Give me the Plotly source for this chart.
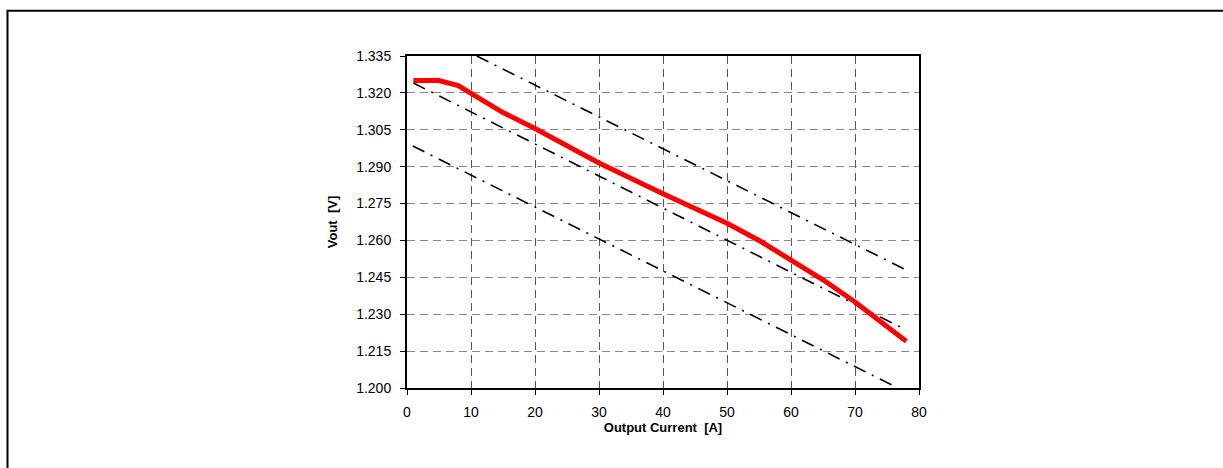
import plotly.graph_objects as go

# Measured curve (red)
current = [1, 5, 8, 10, 15, 20, 30, 40, 50, 55, 60, 65, 70, 78]
vout = [1.325, 1.325, 1.323, 1.320, 1.312, 1.3055, 1.2915, 1.279, 1.267,
        1.260, 1.252, 1.244, 1.235, 1.219]

# Load-line limits (dash-dot straight lines)
upper_x = [10.9, 78]
upper_y = [1.335, 1.248]
mid_x = [1, 78]
mid_y = [1.324, 1.2236]
lower_x = [0.9, 76.7]
lower_y = [1.2984, 1.2000]

x_ticks = [0, 10, 20, 30, 40, 50, 60, 70, 80]
y_ticks = [1.200, 1.215, 1.230, 1.245, 1.260, 1.275, 1.290, 1.305, 1.320, 1.335]

W, H = 1223, 468
L, R, T, B = 407, 919, 56, 388

dashdot = "13px,7px,2px,7px"
fig = go.Figure()
for xs, ys in [(upper_x, upper_y), (mid_x, mid_y), (lower_x, lower_y)]:
    fig.add_trace(go.Scatter(x=xs, y=ys, mode="lines",
                             line=dict(color="black", width=1.6, dash=dashdot),
                             hoverinfo="skip", showlegend=False))
fig.add_trace(go.Scatter(x=current, y=vout, mode="lines",
                         line=dict(color="#ff0000", width=5),
                         showlegend=False))

font = dict(family="Liberation Sans, Arial, sans-serif", size=14, color="black")

fig.update_layout(
    width=W, height=H,
    margin=dict(l=L, r=W - R, t=T, b=H - B, pad=0),
    paper_bgcolor="white", plot_bgcolor="white",
    font=font,
    xaxis=dict(range=[0, 80], tickvals=x_ticks, ticktext=[str(v) for v in x_ticks],
               showline=True, linecolor="black", linewidth=2, mirror=True,
               ticks="outside", ticklen=5, tickcolor="black", tickwidth=1,
               ticklabelstandoff=5,
               showgrid=True, gridcolor="#555555", gridwidth=1, griddash="8px,5px",
               zeroline=False,
               title=dict(text="<b>Output Current\u00a0\u00a0[A]</b>",
                          font=dict(size=13), standoff=1)),
    yaxis=dict(range=[1.200, 1.335], tickvals=y_ticks,
               ticktext=[f"{v:.3f}" for v in y_ticks],
               showline=True, linecolor="black", linewidth=2, mirror=True,
               ticks="outside", ticklen=5, tickcolor="black", tickwidth=1,
               ticklabelstandoff=6,
               showgrid=True, gridcolor="#888888", gridwidth=1, griddash="8px,5px",
               zeroline=False,
               title=dict(text="<b>Vout\u00a0\u00a0[V]</b>",
                          font=dict(size=13), standoff=16)),
)

pw, ph = R - L, B - T
def px_x(p):
    return (p - L) / pw
def px_y(p):
    return (B - p) / ph

fig.add_shape(type="rect", xref="paper", yref="paper",
              x0=px_x(7.5), x1=px_x(1240), y0=px_y(490), y1=px_y(10.8),
              line=dict(color="black", width=2), fillcolor="rgba(0,0,0,0)",
              layer="above")

fig.write_html("out.html", config={"displayModeBar": False},
               post_script="document.body.style.margin='0';document.body.style.overflow='hidden';")
